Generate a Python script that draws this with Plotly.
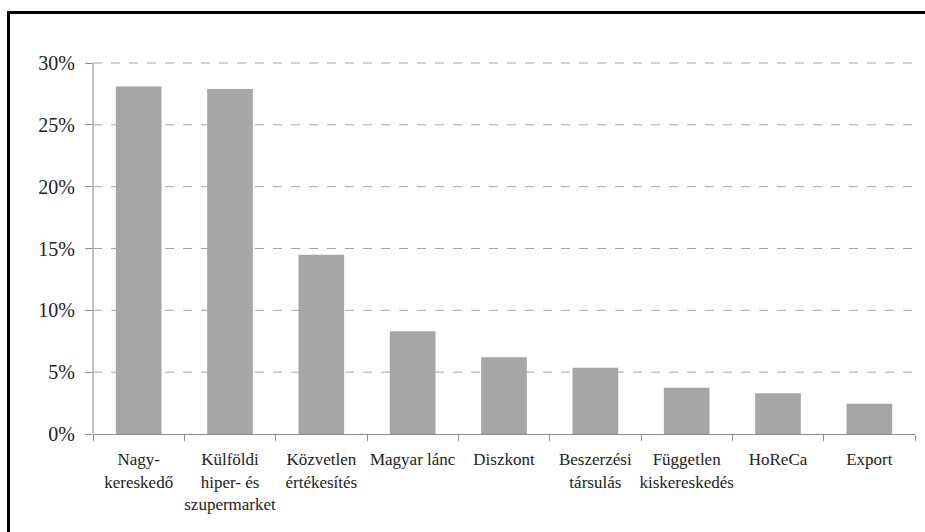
import plotly.graph_objects as go

categories = ["Nagy-<br>kereskedő", "Külföldi<br>hiper- és<br>szupermarket", "Közvetlen<br>értékesítés",
              "Magyar lánc", "Diszkont", "Beszerzési<br>társulás", "Független<br>kiskereskedés",
              "HoReCa", "Export"]
values = [28.1, 27.9, 14.5, 8.3, 6.2, 5.35, 3.75, 3.3, 2.45]
y_ticks = [0, 5, 10, 15, 20, 25, 30]
y_labels = [f"{v}%" for v in y_ticks]

W, H = 925, 532
L, R, T, B = 93, 10, 58, 98
pw, ph = W - L - R, H - T - B
PX_PER_UNIT = 371 / 30
y_top = ph / PX_PER_UNIT
SERIF = "Liberation Serif"

def px_x(x):
    return (x - L) / pw

def px_y(y):
    return (H - B - y) / ph

fig = go.Figure(go.Bar(x=categories, y=values, marker=dict(color="#a6a6a9", line=dict(width=0)),
                       width=0.5))

grid_shapes = [
    dict(type="line", xref="paper", yref="y", x0=0, x1=1, y0=v, y1=v, layer="below",
         line=dict(color="#a4a4a4", width=1, dash="dash"))
    for v in y_ticks if v > 0
]

fig.update_layout(
    width=W, height=H, margin=dict(l=L, r=R, t=T, b=B),
    paper_bgcolor="white", plot_bgcolor="white", showlegend=False,
    font=dict(family=SERIF, color="#222222"),
    xaxis=dict(type="category", tickson="boundaries", ticks="outside", ticklen=6, tickcolor="#8c8c8c",
               showline=True, linecolor="#8c8c8c", linewidth=1, showgrid=False,
               ticklabelstandoff=10,
               tickfont=dict(size=17, family=SERIF, color="#222222"), tickangle=0),
    yaxis=dict(range=[0, y_top], tickvals=y_ticks, ticktext=y_labels, ticks="outside", ticklen=7,
               tickcolor="#8c8c8c", showline=False, showgrid=False, zeroline=False,
               ticklabelstandoff=6,
               tickfont=dict(size=20, family=SERIF, color="#222222")),
    shapes=grid_shapes + [
        dict(type="line", xref="paper", yref="y", x0=0, x1=0, y0=0, y1=30,
             line=dict(color="#8c8c8c", width=1)),
        dict(type="line", xref="paper", yref="paper", x0=px_x(8.5), x1=px_x(8.5), y0=px_y(11), y1=px_y(H),
             line=dict(color="black", width=3)),
        dict(type="line", xref="paper", yref="paper", x0=px_x(7), x1=px_x(W), y0=px_y(12.5), y1=px_y(12.5),
             line=dict(color="black", width=3)),
    ],
)

fig.write_html("out.html")
